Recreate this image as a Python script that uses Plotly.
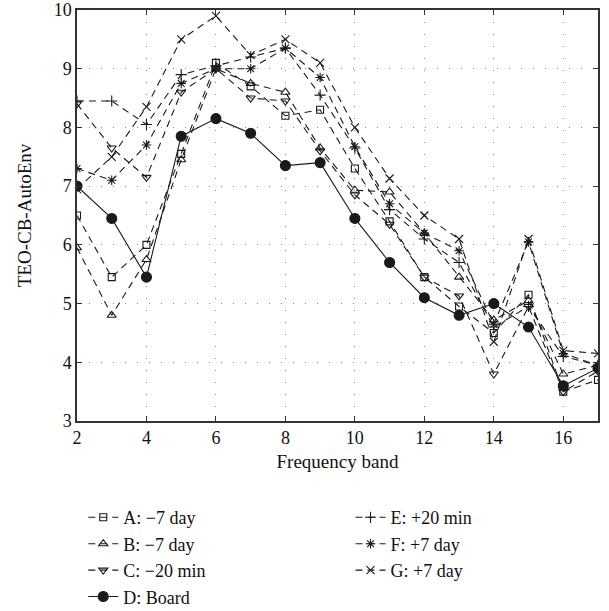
import plotly.graph_objects as go

bands = list(range(2, 18))
x_ticks = [2, 4, 6, 8, 10, 12, 14, 16]
y_ticks = [3, 4, 5, 6, 7, 8, 9, 10]

series_names = ["A: \u22127 day", "B: \u22127 day", "C: \u221220 min", "D: Board",
                "E: +20 min", "F: +7 day", "G: +7 day"]

a_vals = [6.5, 5.45, 6.0, 7.55, 9.1, 8.7, 8.2, 8.3, 7.3, 6.4, 5.45, 4.95, 4.5, 5.15, 3.5, 3.7]
b_vals = [5.95, 4.8, 5.75, 7.45, 9.0, 8.75, 8.6, 7.65, 6.93, 6.9, 6.2, 5.45, 4.72, 5.05, 3.8, 3.95]
c_vals = [8.4, 7.65, 7.15, 8.6, 9.0, 8.5, 8.45, 7.6, 6.85, 6.35, 5.45, 5.13, 3.8, 4.95, 3.5, 3.85]
d_vals = [7.0, 6.45, 5.45, 7.85, 8.15, 7.9, 7.35, 7.4, 6.45, 5.7, 5.1, 4.8, 5.0, 4.6, 3.6, 3.9]
e_vals = [8.45, 8.45, 8.05, 8.9, 9.05, 9.2, 9.35, 8.55, 7.65, 6.6, 6.1, 5.7, 4.6, 4.95, 4.1, 3.95]
f_vals = [7.3, 7.1, 7.7, 8.75, 9.0, 9.0, 9.35, 8.85, 7.67, 6.7, 6.2, 5.9, 4.65, 6.05, 4.15, 3.95]
g_vals = [6.95, 7.5, 8.35, 9.5, 9.9, 9.23, 9.5, 9.1, 8.0, 7.13, 6.5, 6.1, 4.35, 6.1, 4.2, 4.15]

all_vals = [a_vals, b_vals, c_vals, d_vals, e_vals, f_vals, g_vals]
symbols = ["square-open", "triangle-up-open", "triangle-down-open", "circle",
           "cross-thin-open", "asterisk-open", "x-thin-open"]
sizes = [7, 8, 8, 10, 8, 8, 8]
dashes = ["7px,5px", "7px,5px", "7px,5px", "solid", "7px,5px", "7px,5px", "7px,5px"]
legends = ["legend", "legend", "legend", "legend", "legend2", "legend2", "legend2"]

INK = "#1a1a1a"
FONT = "Liberation Serif"

fig = go.Figure()
for name, vals, sym, sz, dash, lg in zip(series_names, all_vals, symbols, sizes, dashes, legends):
    fig.add_trace(go.Scatter(
        x=bands, y=vals, name=name, mode="lines+markers",
        line=dict(color=INK, width=1.1, dash=dash),
        marker=dict(symbol=sym, size=sz, color=INK, line=dict(color=INK, width=1.1)),
        legend=lg,
    ))

axis_common = dict(
    showline=True, linecolor="#333", linewidth=1.5, mirror="ticks",
    ticks="inside", ticklen=5, tickcolor="#333",
    showgrid=True, gridcolor="#888", gridwidth=1, griddash="1px,11px",
    zeroline=False, automargin=False,
    tickfont=dict(family=FONT, size=18, color="#111"),
)

fig.update_xaxes(range=[2, 17], tickvals=x_ticks,
                 title=dict(text="Frequency band", font=dict(family=FONT, size=19, color="#111"), standoff=7),
                 **axis_common)
fig.update_yaxes(range=[3, 10], tickvals=y_ticks,
                 title=dict(text="TEO-CB-AutoEnv", font=dict(family=FONT, size=19, color="#111"), standoff=17),
                 **axis_common)

legend_common = dict(
    font=dict(family=FONT, size=18, color="#111"),
    bgcolor="rgba(0,0,0,0)", yanchor="top", xanchor="left",
    tracegroupgap=0, itemwidth=30,
)
fig.update_layout(
    width=609, height=611,
    margin=dict(l=77, r=11, t=10, b=190, autoexpand=False),
    plot_bgcolor="white", paper_bgcolor="white",
    legend=dict(x=0.012, y=-0.19, **legend_common),
    legend2=dict(x=0.525, y=-0.19, **legend_common),
    showlegend=True,
)

fig.write_html("out.html", config={"displayModeBar": False},
               post_script="document.body.style.margin='0';")
